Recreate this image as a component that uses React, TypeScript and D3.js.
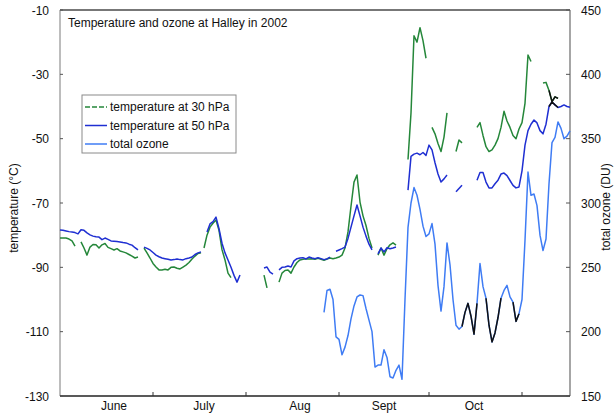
import React from "react";
import * as d3 from "d3";

const W = 616;
const H = 416;

const title = "Temperature and ozone at Halley in 2002";
const seriesNames = ["temperature at 30 hPa", "temperature at 50 hPa", "total ozone"];
const seriesColors = ["#25873a", "#1f2fd2", "#3f7cf4"];
const leftAxisTitle = "temperature (°C)";
const rightAxisTitle = "total ozone (DU)";
const monthLabels = ["June", "July", "Aug", "Sept", "Oct"];
const monthLabelDays = [18, 18, 19, 16, 16];
const tempTicks = [-10, -30, -50, -70, -90, -110, -130];
const ozoneTicks = [150, 200, 250, 300, 350, 400, 450];

// [first day (days after 1 June 2002), daily values]
const temp30Segments: [number, number[]][] = [
  [-1, [-80.9, -80.9, -80.9, -81.2, -81.8, -83.4]],
  [6, [-82.1, -84.0, -86.2, -83.7, -82.9, -83.0, -84.0, -83.0, -82.6, -83.8, -84.2, -84.6, -84.2, -84.9, -85.2, -85.5, -86.0, -86.5, -87.1, -86.8]],
  [27, [-84.0, -85.5, -87.1, -88.8, -89.9, -90.8, -90.8, -90.6, -90.8, -90.0, -89.9, -90.3, -90.5, -89.9, -89.3, -88.5, -87.4, -86.5, -85.7, -85.5]],
  [47, [-84.0, -80.0, -77.5, -76.3, -75.3, -78.5, -84.5, -87.7, -91.8, -93.2]],
  [67, [-92.4, -96.4]],
  [72, [-94.6, -91.8, -91.0, -90.8, -91.8, -89.9, -88.5, -87.7, -87.5, -87.3, -87.4, -87.3, -87.5, -87.2, -87.5, -87.8, -87.4, -87.1, -87.3, -87.1, -86.8, -86.2, -84.0, -79.0, -71.0, -63.5, -61.3, -69.7, -74.0, -77.0, -81.0, -84.0]],
  [105, [-86.2, -84.0, -86.2, -84.2, -83.0, -82.4, -83.1]],
  [115, [-56.5, -42.0, -18.0, -20.0, -15.5, -19.5, -25.0]],
  [123, [-46.5, -48.5, -51.5, -54.0, -49.5, -42.0]],
  [131, [-54.0, -50.4, -51.3]],
  [138, [-46.5, -45.0, -49.0, -52.5, -54.0, -53.5, -52.0, -50.0, -46.5, -41.5, -44.5, -46.5, -49.0, -50.0, -47.0, -45.0, -39.0, -24.0, -26.0]],
  [160, [-32.7, -32.5, -35.0, -38.5, -37.0, -37.5]],
];

const temp50Segments: [number, number[]][] = [
  [-1, [-78.4, -78.5, -78.7, -78.9, -79.0, -79.2, -79.6, -78.3, -78.5, -79.3, -79.9, -80.3, -80.5, -80.6, -81.4, -80.9, -81.3, -81.8, -81.9, -82.0, -82.1, -82.3, -82.4, -82.8, -83.1, -83.9, -84.6]],
  [27, [-83.7, -84.1, -84.6, -85.4, -86.2, -86.7, -87.1, -87.3, -87.5, -87.7, -87.6, -87.4, -87.6, -87.7, -87.3, -87.1, -86.8, -86.0, -85.5, -85.2]],
  [48, [-79.0, -76.5, -75.8, -74.4, -78.0, -82.5, -85.5, -87.7, -90.0, -92.5, -94.6, -92.4]],
  [67, [-90.2, -89.9, -91.5, -92.1]],
  [72, [-90.8, -90.0, -89.9, -89.6, -89.9, -88.0, -87.3, -87.1, -87.0, -87.4, -86.8, -87.1, -87.3, -87.0, -87.3, -87.6, -87.4, -86.8]],
  [91, [-85.0, -84.6, -84.2, -83.7, -81.0, -77.5, -74.0, -70.6, -74.0, -77.5, -80.3, -82.8, -84.6]],
  [105, [-85.8, -84.0, -85.2, -83.9, -84.2, -84.0, -83.7]],
  [115, [-66.0, -55.5, -54.8, -54.5, -55.0, -54.3, -55.2, -52.0, -53.5, -57.5, -61.0, -63.5, -62.5, -61.3]],
  [131, [-66.5, -65.5, -64.5]],
  [138, [-62.9, -60.5, -60.5, -63.5, -65.3, -65.3, -64.0, -62.9, -61.0, -60.7, -61.5, -63.0, -64.5, -65.3, -65.0, -60.0, -52.0, -47.5, -45.5, -44.2, -45.1, -47.5, -48.5, -45.5, -40.0, -38.6, -39.5, -40.3, -40.0, -39.5, -40.0, -40.2]],
];

const ozoneSegments: [number, number[]][] = [
  [87, [215, 232, 233, 225, 196, 194, 182, 188, 197, 210, 220, 227, 228.5, 228, 218, 209, 200, 172.5, 174, 174, 186, 180, 165, 164, 170, 174, 163,
    225, 281, 300, 312, 306, 295, 282, 274, 276, 284, 268, 236, 216, 235, 269, 252, 225, 205, 202, 204, 215, 222, 212, 198, 222, 253, 235, 226,
    205, 192, 199, 211, 226, 232, 236, 227, 223, 208, 214, 225, 271, 324, 306, 307, 298, 275, 263, 272, 315, 347, 351, 363, 358, 350, 352, 356]],
];

// day ranges drawn in black on top of the coloured lines
const ozoneBlackRanges: [number, number][] = [[133, 138], [141, 146], [150, 152]];
const temp30BlackRanges: [number, number][] = [[162, 165]];
const temp50BlackRanges: [number, number][] = [[162, 165]];

type Pt = { day: number; v: number };

const dayDate = (d: number) => new Date(Date.UTC(2002, 5, 1 + d));

function toPoints(seg: [number, number[]]): Pt[] {
  const [start, vals] = seg;
  return vals.map((v, i) => ({ day: start + i, v }));
}

export default function App() {
  const left = 60, right = 570, top = 10, bottom = 396;
  const x = d3.scaleUtc().domain([dayDate(-1), dayDate(169)]).range([left, right]);
  const yT = d3.scaleLinear().domain([-130, -10]).range([bottom, top]);
  const yO = d3.scaleLinear().domain([150, 450]).range([bottom, top]);

  const lineT = d3.line<Pt>().x((d) => x(dayDate(d.day))).y((d) => yT(d.v));
  const lineO = d3.line<Pt>().x((d) => x(dayDate(d.day))).y((d) => yO(d.v));

  const monthTicks = d3.utcMonth.range(new Date(Date.UTC(2002, 6, 1)), new Date(Date.UTC(2002, 10, 2)));

  const font = "'Liberation Sans', Arial, Helvetica, sans-serif";

  const blackParts = (segs: [number, number[]][], ranges: [number, number][]) => {
    const out: Pt[][] = [];
    segs.forEach((s) => {
      const pts = toPoints(s);
      ranges.forEach(([a, b]) => {
        const sub = pts.filter((p) => p.day >= a && p.day <= b);
        if (sub.length > 1) out.push(sub);
      });
    });
    return out;
  };

  const lw = 1.5;

  return (
    <svg width={W} height={H} style={{ position: "absolute", left: 0, top: 0, background: "#fff" }} fontFamily={font}>
      <rect x={0} y={0} width={W} height={H} fill="#fff" />
      {/* frame */}
      <line x1={left} x2={right} y1={top} y2={top} stroke="#4a4a4a" strokeWidth={1.6} />
      <line x1={left} x2={left} y1={top} y2={bottom} stroke="#7a7a7a" strokeWidth={1} />
      <line x1={right} x2={right} y1={top} y2={bottom} stroke="#6a6a6a" strokeWidth={1.2} />
      <line x1={left} x2={right} y1={bottom} y2={bottom} stroke="#222" strokeWidth={1.4} />

      {/* left axis */}
      {tempTicks.map((t) => (
        <g key={"lt" + t}>
          <line x1={left} x2={left + 3} y1={yT(t)} y2={yT(t)} stroke="#555" />
          <text x={49} y={yT(t) + 4.5} fontSize={12} textAnchor="end" fill="#111">{t}</text>
        </g>
      ))}
      {/* right axis */}
      {ozoneTicks.map((t) => (
        <g key={"rt" + t}>
          <line x1={right - 4} x2={right} y1={yO(t)} y2={yO(t)} stroke="#555" />
          <text x={581} y={yO(t) + 4.5} fontSize={12} textAnchor="start" fill="#111">{t}</text>
        </g>
      ))}
      {/* bottom axis */}
      {monthTicks.map((m, i) => (
        <line key={"mt" + i} x1={x(m)} x2={x(m)} y1={bottom} y2={bottom - 4} stroke="#333" />
      ))}
      {monthLabels.map((m, i) => (
        <text key={m} x={x(new Date(Date.UTC(2002, 5 + i, monthLabelDays[i])))} y={410} fontSize={12} textAnchor="middle" fill="#111">{m}</text>
      ))}

      <text transform={`translate(18,208) rotate(-90)`} fontSize={12} textAnchor="middle" fill="#111">{leftAxisTitle}</text>
      <text transform={`translate(610,207) rotate(-90)`} fontSize={12} textAnchor="middle" fill="#111">{rightAxisTitle}</text>

      <text x={68} y={27} fontSize={12} fill="#111">{title}</text>

      {/* series */}
      {ozoneSegments.map((s, i) => (
        <path key={"o" + i} d={lineO(toPoints(s)) || ""} fill="none" stroke={seriesColors[2]} strokeWidth={lw} strokeLinejoin="round" />
      ))}
      {blackParts(ozoneSegments, ozoneBlackRanges).map((p, i) => (
        <path key={"ob" + i} d={lineO(p) || ""} fill="none" stroke="#111" strokeWidth={lw} strokeLinejoin="round" />
      ))}
      {temp30Segments.map((s, i) => (
        <path key={"t30" + i} d={lineT(toPoints(s)) || ""} fill="none" stroke={seriesColors[0]} strokeWidth={lw} strokeLinejoin="round" />
      ))}
      {temp50Segments.map((s, i) => (
        <path key={"t50" + i} d={lineT(toPoints(s)) || ""} fill="none" stroke={seriesColors[1]} strokeWidth={lw} strokeLinejoin="round" />
      ))}
      {blackParts(temp30Segments, temp30BlackRanges).map((p, i) => (
        <path key={"t30b" + i} d={lineT(p) || ""} fill="none" stroke="#111" strokeWidth={lw} strokeLinejoin="round" />
      ))}
      {blackParts(temp50Segments, temp50BlackRanges).map((p, i) => (
        <path key={"t50b" + i} d={lineT(p) || ""} fill="none" stroke="#111" strokeWidth={lw} strokeLinejoin="round" />
      ))}

      {/* legend */}
      <rect x={82} y={95} width={154} height={58} fill="#fff" stroke="#8a8a8a" strokeWidth={1} />
      {seriesNames.map((n, i) => {
        const ly = [107, 125.5, 144][i];
        return (
          <g key={n}>
            <line x1={85} x2={107} y1={ly} y2={ly} stroke={seriesColors[i]} strokeWidth={lw} strokeDasharray={i === 0 ? "5,2" : undefined} />
            <text x={110} y={ly + 4} fontSize={12} fill="#111">{n}</text>
          </g>
        );
      })}
    </svg>
  );
}
